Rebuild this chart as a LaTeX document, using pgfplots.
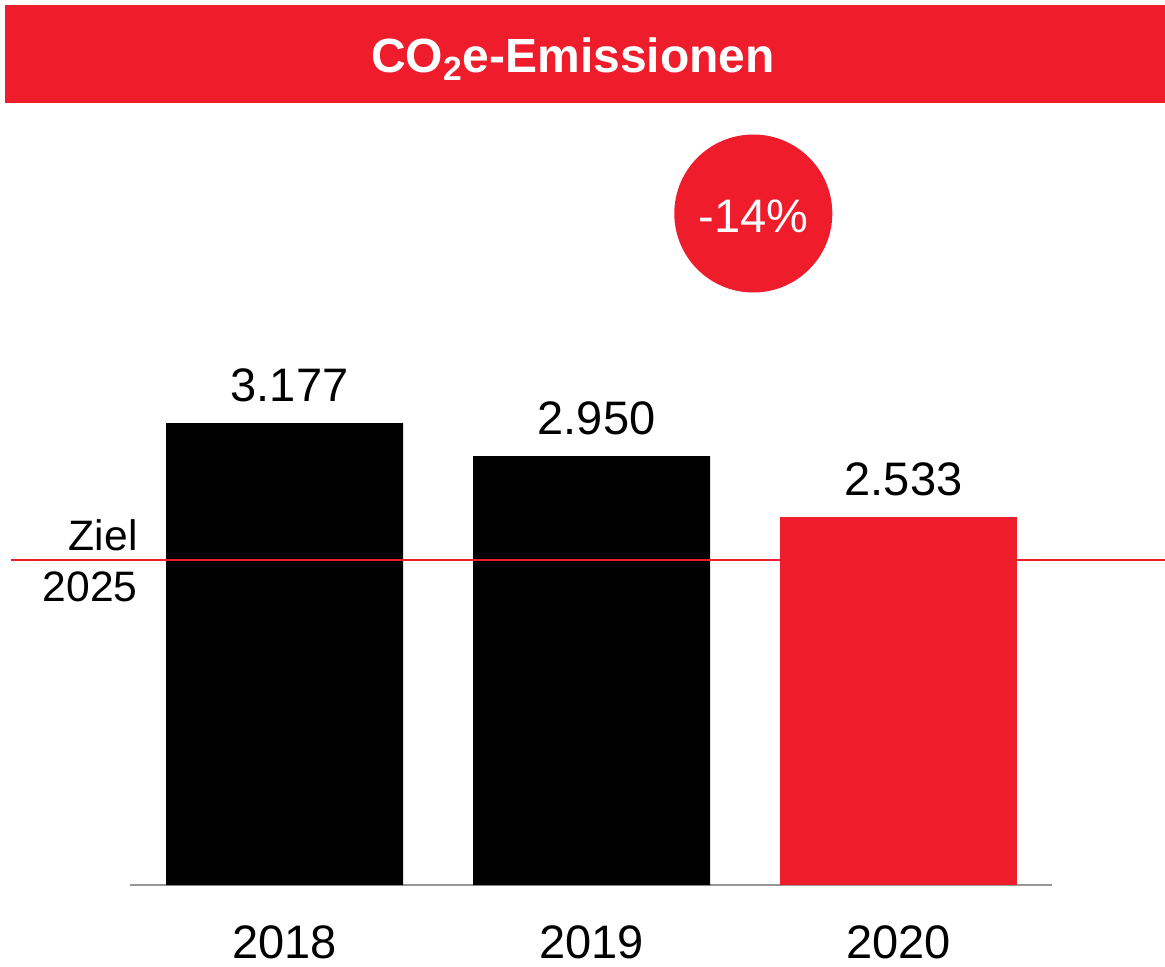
\documentclass[border=0pt]{standalone}
\usepackage{pgfplots}
\pgfplotsset{compat=1.18}
\usepackage{fontspec}
\setmainfont{Liberation Sans}
\definecolor{mainred}{RGB}{239,28,44}
\definecolor{axisgray}{RGB}{150,150,150}
\newcommand{\lbl}{\fontsize{23.5}{28}\selectfont}
\newcommand{\zlbl}{\fontsize{21.3}{26}\selectfont}
\begin{document}
\begin{tikzpicture}
\useasboundingbox (0,0) rectangle (582.5pt,483pt);
% title bar
\fill[mainred] (2.5pt,431.25pt) rectangle (582.5pt,480.5pt);
\node[anchor=base, text=white, inner sep=0pt, font={\fontsize{24}{28}\selectfont\bfseries}] at (286.5pt,446.5pt) {CO\textsubscript{2}e-Emissionen};
% change bubble
\fill[mainred] (376.65pt,376.25pt) circle (39.5pt);
\node[anchor=base, text=white, inner sep=0pt, font=\lbl] at (376.65pt,367pt) {-14\%};
\begin{axis}[
  at={(65pt,40.5pt)}, anchor=south west,
  scale only axis, width=461pt, height=363.55pt,
  xmin=-0.50326, xmax=2.5, ymin=0, ymax=5000,
  enlargelimits=false, clip=false,
  axis x line=bottom, axis y line=none,
  x axis line style={-, draw=axisgray, line width=1pt},
  xtick={0,1,2}, xticklabels={2018,2019,2020},
  major tick length=0pt,
  xticklabel style={anchor=base, yshift=-36.5pt, font=\lbl, inner sep=0pt},
  /pgf/number format/.cd, 1000 sep={.}, assume math mode=true,
]
\addplot[ybar, bar width=118.5pt, bar shift=0pt, fill=black, draw=none,
  nodes near coords, nodes near coords style={anchor=base, yshift=10.7pt, xshift=2.5pt, font=\lbl, inner sep=0pt, text=black}]
  coordinates {(0,3177) (1,2950)};
\addplot[ybar, bar width=118.5pt, bar shift=0pt, fill=mainred, draw=none,
  nodes near coords, nodes near coords style={anchor=base, yshift=10.7pt, xshift=2.5pt, font=\lbl, inner sep=0pt, text=black}]
  coordinates {(2,2533)};
\addplot[sharp plot, mainred, line width=1pt] coordinates {(-0.8909,2233) (2.868,2233)};
\end{axis}
% target label
\node[anchor=base east, inner sep=0pt, font=\zlbl] at (69pt,208pt) {Ziel};
\node[anchor=base east, inner sep=0pt, font=\zlbl] at (69pt,182.25pt) {2025};
\end{tikzpicture}
\end{document}
